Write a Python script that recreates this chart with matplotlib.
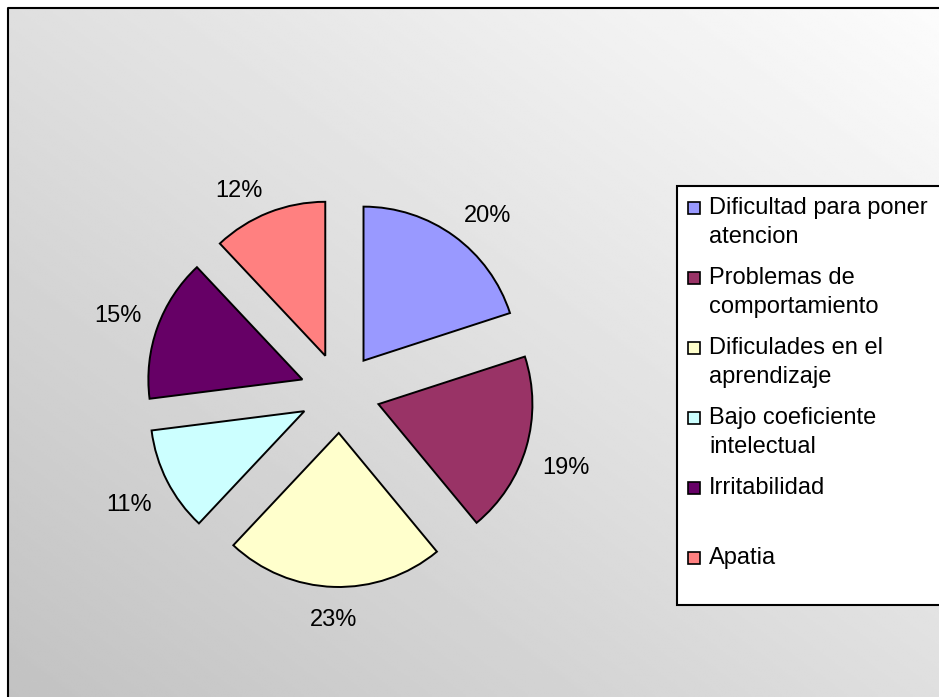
import numpy as np
import matplotlib
matplotlib.use('Agg')
import matplotlib.pyplot as plt
from matplotlib.patches import Rectangle

plt.rcParams['font.family'] = ['Liberation Sans', 'DejaVu Sans']

# causas y su porcentaje
categories = ['Dificultad para poner\natencion',
              'Problemas de\ncomportamiento',
              'Dificulades en el\naprendizaje',
              'Bajo coeficiente\nintelectual',
              'Irritabilidad\n ',
              'Apatia']
shares = [20, 19, 23, 11, 15, 12]
colors = ['#9999FF', '#993366', '#FFFFCC', '#CCFFFF', '#660066', '#FF8080']

W, H = 939, 697
FS = 17

fig = plt.figure(figsize=(W / 100, H / 100), dpi=100)
ax = fig.add_axes([0, 0, 1, 1])

# grey diagonal background, lighter towards the top right
gx, gy = np.meshgrid(np.linspace(0, 1, 300), np.linspace(0, 1, 300))
shade = (194 + 58 * (gx + gy) / 2) / 255
ax.imshow(shade, cmap='gray', vmin=0, vmax=1, origin='lower',
          extent=(8, W, 0, H - 8), aspect='auto', zorder=0,
          interpolation='bilinear')
ax.plot([8, 8, W], [0, H - 8, H - 8], color='black', lw=1.5, zorder=1,
        solid_capstyle='projecting')

# exploded pie
r = 154
cx, cy = 340, H - 393
wedges, texts, autotexts = ax.pie(
    shares, colors=colors, startangle=90, counterclock=False,
    radius=r, center=(cx, cy), explode=[40] * len(shares),
    autopct='%1.0f%%', pctdistance=1.25,
    wedgeprops=dict(edgecolor='black', linewidth=1.4),
    textprops=dict(fontsize=FS, color='black'))

# percentage labels sit outside, nearest corner anchored on a ring
ring = 211
for w, t in zip(wedges, autotexts):
    w.set_zorder(2)
    ang = np.deg2rad((w.theta1 + w.theta2) / 2)
    dx, dy = np.cos(ang), np.sin(ang)
    t.set_position((cx + ring * dx, cy + ring * dy - 5))
    if abs(dx) < 0.2:
        t.set_ha('center')
    else:
        t.set_ha('left' if dx > 0 else 'right')
    t.set_va('bottom' if dy > 0 else 'top')

# legend box, runs off the right edge
ax.add_patch(Rectangle((677, H - 605), W, 605 - 186, facecolor='white',
                       edgecolor='black', lw=1.5, zorder=3))
for i, (lab, col) in enumerate(zip(categories, colors)):
    y0 = 208 + 70 * i
    ax.add_patch(Rectangle((688, H - y0 - 6), 12, 12, facecolor=col,
                           edgecolor='black', lw=1.2, zorder=4))
    for j, line in enumerate(lab.split('\n')):
        ax.text(709, H - (y0 + 29 * j), line, fontsize=FS, ha='left',
                va='center', zorder=5)

ax.set_aspect('auto')
ax.set_xlim(0, W)
ax.set_ylim(0, H)
ax.axis('off')

fig.savefig('out.png', dpi=100, facecolor='white')
